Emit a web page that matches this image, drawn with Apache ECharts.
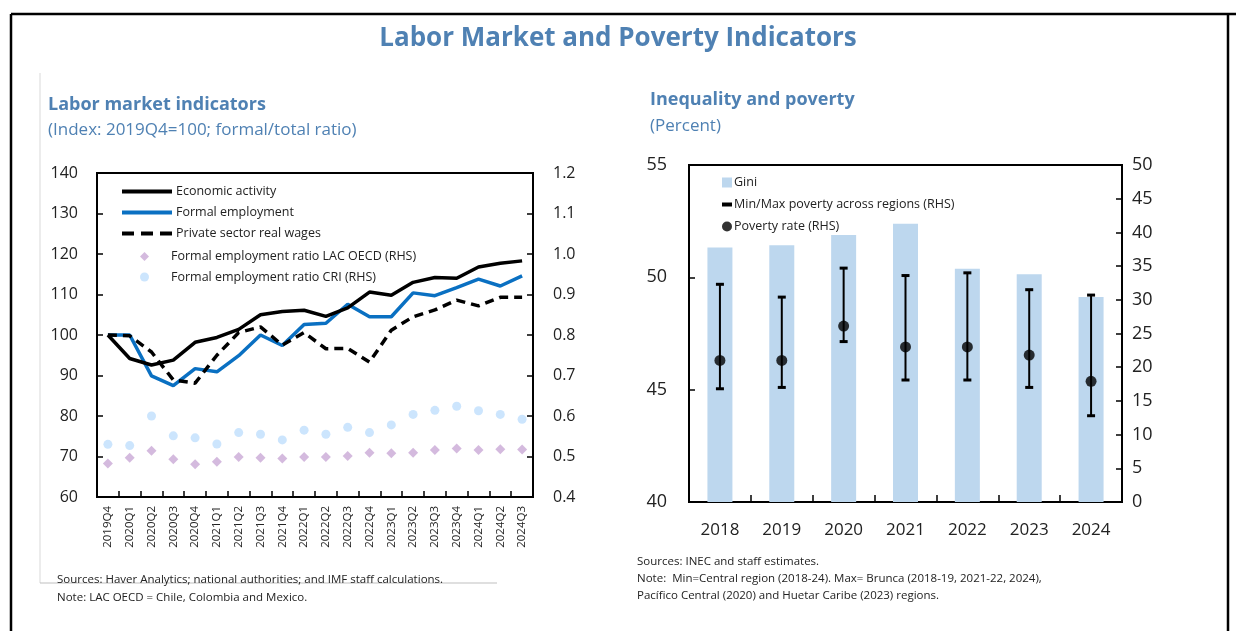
<!DOCTYPE html>
<html>
<head>
<meta charset="utf-8">
<title>Labor Market and Poverty Indicators</title>
<script src="https://cdn.jsdelivr.net/npm/echarts@6/dist/echarts.min.js"></script>
<style>
  html, body { margin: 0; padding: 0; background: #fff; }
  #main { width: 1236px; height: 631px; }
</style>
</head>
<body>
<div id="main"></div>
<script>
// left panel: quarterly data
var quarters = ['2019Q4', '2020Q1', '2020Q2', '2020Q3', '2020Q4', '2021Q1', '2021Q2', '2021Q3', '2021Q4', '2022Q1',
  '2022Q2', '2022Q3', '2022Q4', '2023Q1', '2023Q2', '2023Q3', '2023Q4', '2024Q1', '2024Q2', '2024Q3'];
var econActivity = [100, 94.2, 92.6, 93.8, 98.2, 99.4, 101.4, 105, 105.8, 106.1, 104.6, 106.7, 110.6, 109.8, 113.0, 114.2, 114.0, 116.8, 117.7, 118.3];
var formalEmp = [100, 100, 89.9, 87.5, 91.7, 90.9, 94.9, 100, 97.4, 102.6, 102.9, 107.6, 104.5, 104.5, 110.4, 109.7, 111.7, 113.8, 112.1, 114.6];
var realWages = [100, 99.8, 95.8, 88.9, 88.1, 95.0, 100.6, 102.0, 97.5, 100.6, 96.6, 96.7, 93.3, 101.2, 104.5, 106.2, 108.6, 107.2, 109.3, 109.3];
var ratioLacOecd = [0.483, 0.497, 0.514, 0.493, 0.481, 0.487, 0.499, 0.497, 0.495, 0.499, 0.499, 0.501, 0.509, 0.508, 0.509, 0.516, 0.520, 0.516, 0.518, 0.517];
var ratioCri = [0.530, 0.527, 0.600, 0.551, 0.546, 0.531, 0.559, 0.555, 0.541, 0.565, 0.555, 0.572, 0.559, 0.578, 0.604, 0.614, 0.624, 0.613, 0.604, 0.592];

// right panel: annual data
var years = ['2018', '2019', '2020', '2021', '2022', '2023', '2024'];
var gini = [51.33, 51.43, 51.88, 52.38, 50.38, 50.14, 49.13];
var povMin = [16.8, 17.0, 23.8, 18.1, 18.1, 17.0, 12.8];
var povMax = [32.3, 30.4, 34.7, 33.6, 34.0, 31.5, 30.7];
var povRate = [21.0, 21.0, 26.1, 23.0, 23.0, 21.8, 17.9];

var FONT = '"Open Sans", "Noto Sans", sans-serif';
var TITLE_BLUE = '#4f81b3';

var myChart = echarts.init(document.getElementById('main'));

var rangeData = years.map(function (y, i) { return [i, povMin[i], povMax[i]]; });

function renderRange(params, api) {
  var x = api.value(0);
  var lo = api.coord([x, api.value(1)]);
  var hi = api.coord([x, api.value(2)]);
  var cap = 4;
  var st = { stroke: '#000', lineWidth: 2 };
  var capSt = { stroke: '#000', lineWidth: 3 };
  return {
    type: 'group',
    children: [
      { type: 'line', shape: { x1: lo[0], y1: lo[1], x2: hi[0], y2: hi[1] }, style: st },
      { type: 'line', shape: { x1: hi[0] - cap, y1: hi[1], x2: hi[0] + cap, y2: hi[1] }, style: capSt },
      { type: 'line', shape: { x1: lo[0] - cap, y1: lo[1], x2: lo[0] + cap, y2: lo[1] }, style: capSt }
    ]
  };
}

var axisLineSt = { show: true, lineStyle: { color: '#000', width: 2 } };
var tickSt = { show: true, inside: true, length: 6, lineStyle: { color: '#000', width: 1.5 } };

var option = {
  animation: false,
  textStyle: { fontFamily: FONT },
  grid: [
    { left: 97, top: 173, width: 436, height: 324, show: true, borderColor: '#000', borderWidth: 2 },
    { left: 689, top: 165, width: 433, height: 337, show: true, borderColor: '#000', borderWidth: 2 }
  ],
  legend: [
    {
      left: 117, top: 180, orient: 'vertical', itemWidth: 50, itemHeight: 4, itemGap: 8,
      textStyle: { fontFamily: FONT, fontSize: 12.5, color: '#222', padding: [0, 0, 0, -1], lineHeight: 4 },
      data: [
        { name: 'Economic activity', icon: 'path://M0,0H50V4H0Z' },
        { name: 'Formal employment', icon: 'path://M0,0H50V4H0Z' },
        { name: 'Private sector real wages', icon: 'path://M0,0H12V4H0ZM19,0H31V4H19ZM38,0H50V4H38Z' }
      ]
    },
    {
      left: 135, top: 245, orient: 'vertical', itemWidth: 9, itemHeight: 9, itemGap: 7.5,
      textStyle: { fontFamily: FONT, fontSize: 12.5, color: '#222', padding: [0, 0, 0, 17] },
      data: [
        { name: 'Formal employment ratio LAC OECD (RHS)', icon: 'diamond' },
        { name: 'Formal employment ratio CRI (RHS)', icon: 'circle' }
      ]
    },
    {
      left: 717, top: 171, itemWidth: 10, itemHeight: 10,
      textStyle: { fontFamily: FONT, fontSize: 12.5, color: '#222', padding: [0, 0, 0, -3] },
      data: [{ name: 'Gini', icon: 'rect' }]
    },
    {
      left: 717, top: 193, itemWidth: 10, itemHeight: 10,
      textStyle: { fontFamily: FONT, fontSize: 12.5, color: '#222', padding: [0, 0, 0, -3] },
      data: [{ name: 'Min/Max poverty across regions (RHS)', icon: 'path://M1.5,3.8H8V6.4H1.5Z', itemStyle: { color: '#000' } }]
    },
    {
      left: 717, top: 215, itemWidth: 10, itemHeight: 10,
      textStyle: { fontFamily: FONT, fontSize: 12.5, color: '#222', padding: [0, 0, 0, -3] },
      data: [{ name: 'Poverty rate (RHS)', icon: 'circle' }]
    }
  ],
  xAxis: [
    {
      type: 'category', gridIndex: 0, data: quarters, boundaryGap: true,
      axisLine: axisLineSt,
      axisTick: { show: true, inside: true, length: 6, interval: 0, lineStyle: { color: '#000', width: 1.5 } },
      axisLabel: { interval: 0, rotate: 90, margin: 9, fontSize: 11.5, color: '#222', fontFamily: FONT }
    },
    {
      type: 'category', gridIndex: 1, data: years, boundaryGap: true,
      axisLine: axisLineSt,
      axisTick: { show: true, inside: true, length: 7, interval: 0, lineStyle: { color: '#000', width: 1.5 } },
      axisLabel: { interval: 0, margin: 20, fontSize: 17, color: '#222', fontFamily: FONT }
    }
  ],
  yAxis: [
    {
      type: 'value', gridIndex: 0, min: 60, max: 140, interval: 10,
      axisLine: axisLineSt, axisTick: tickSt, splitLine: { show: false },
      axisLabel: { margin: 19, fontSize: 16, color: '#222', fontFamily: FONT }
    },
    {
      type: 'value', gridIndex: 0, position: 'right', min: 0.4, max: 1.2, interval: 0.1,
      axisLine: axisLineSt, axisTick: tickSt, splitLine: { show: false },
      axisLabel: { margin: 20, fontSize: 16, color: '#222', fontFamily: FONT,
        formatter: function (v) { return v.toFixed(1); } }
    },
    {
      type: 'value', gridIndex: 1, min: 40, max: 55, interval: 5,
      axisLine: axisLineSt, axisTick: tickSt, splitLine: { show: false },
      axisLabel: { margin: 22, fontSize: 18, color: '#222', fontFamily: FONT }
    },
    {
      type: 'value', gridIndex: 1, position: 'right', min: 0, max: 50, interval: 5,
      axisLine: axisLineSt, axisTick: tickSt, splitLine: { show: false },
      axisLabel: { margin: 10, fontSize: 18, color: '#222', fontFamily: FONT }
    }
  ],
  series: [
    {
      name: 'Economic activity', type: 'line', xAxisIndex: 0, yAxisIndex: 0, data: econActivity,
      symbol: 'none', lineStyle: { color: '#000', width: 3.5 }, itemStyle: { color: '#000' }, z: 5
    },
    {
      name: 'Formal employment', type: 'line', xAxisIndex: 0, yAxisIndex: 0, data: formalEmp,
      symbol: 'none', lineStyle: { color: '#0a70c2', width: 3.5 }, itemStyle: { color: '#0a70c2' }, z: 4
    },
    {
      name: 'Private sector real wages', type: 'line', xAxisIndex: 0, yAxisIndex: 0, data: realWages,
      symbol: 'none', lineStyle: { color: '#000', width: 3.5, type: [9, 6] }, itemStyle: { color: '#000' }, z: 6
    },
    {
      name: 'Formal employment ratio LAC OECD (RHS)', type: 'scatter', xAxisIndex: 0, yAxisIndex: 1, data: ratioLacOecd,
      symbol: 'diamond', symbolSize: 10, itemStyle: { color: '#c9a9d6' }
    },
    {
      name: 'Formal employment ratio CRI (RHS)', type: 'scatter', xAxisIndex: 0, yAxisIndex: 1, data: ratioCri,
      symbol: 'circle', symbolSize: 9, itemStyle: { color: '#bfdffc' }
    },
    {
      name: 'Gini', type: 'bar', xAxisIndex: 1, yAxisIndex: 2, data: gini,
      barWidth: 25, itemStyle: { color: '#bdd7ee' }
    },
    {
      name: 'Min/Max poverty across regions (RHS)', type: 'custom', xAxisIndex: 1, yAxisIndex: 3,
      data: rangeData, renderItem: renderRange, itemStyle: { color: '#000' }, z: 5
    },
    {
      name: 'Poverty rate (RHS)', type: 'scatter', xAxisIndex: 1, yAxisIndex: 3, data: povRate,
      symbol: 'circle', symbolSize: 11, itemStyle: { color: '#000' }, z: 6
    }
  ],
  graphic: [
    // outer frame
    { type: 'line', shape: { x1: 11, y1: 14, x2: 1236, y2: 14 }, style: { stroke: '#000', lineWidth: 2.5 } },
    { type: 'line', shape: { x1: 11, y1: 14, x2: 11, y2: 631 }, style: { stroke: '#000', lineWidth: 2.5 } },
    { type: 'line', shape: { x1: 1228, y1: 14, x2: 1228, y2: 631 }, style: { stroke: '#000', lineWidth: 2.5 } },
    // thin grey frame of the left panel
    { type: 'line', shape: { x1: 40, y1: 73, x2: 40, y2: 583 }, style: { stroke: '#d9d9d9', lineWidth: 1 } },
    { type: 'line', shape: { x1: 40, y1: 583, x2: 497, y2: 583 }, style: { stroke: '#bfbfbf', lineWidth: 1 } },
    // titles
    { type: 'text', left: 'center', top: 26, style: { text: 'Labor Market and Poverty Indicators', fill: TITLE_BLUE, font: 'bold 26px ' + FONT } },
    { type: 'text', left: 48, top: 96, style: { text: 'Labor market indicators', fill: TITLE_BLUE, font: 'bold 18px ' + FONT } },
    { type: 'text', left: 48, top: 122, style: { text: '(Index: 2019Q4=100; formal/total ratio)', fill: TITLE_BLUE, font: '17px ' + FONT } },
    { type: 'text', left: 650, top: 91, style: { text: 'Inequality and poverty', fill: TITLE_BLUE, font: 'bold 18px ' + FONT } },
    { type: 'text', left: 650, top: 118, style: { text: '(Percent)', fill: TITLE_BLUE, font: '17px ' + FONT } },
    // notes
    { type: 'text', left: 57, top: 574, style: { text: 'Sources: Haver Analytics; national authorities; and IMF staff calculations.', fill: '#222', font: '11.5px ' + FONT } },
    { type: 'text', left: 57, top: 592, style: { text: 'Note: LAC OECD = Chile, Colombia and Mexico.', fill: '#222', font: '11.5px ' + FONT } },
    { type: 'text', left: 637, top: 556, style: { text: 'Sources: INEC and staff estimates.', fill: '#222', font: '11.5px ' + FONT } },
    { type: 'text', left: 637, top: 573, style: { text: 'Note:  Min=Central region (2018-24). Max= Brunca (2018-19, 2021-22, 2024),', fill: '#222', font: '11.5px ' + FONT } },
    { type: 'text', left: 637, top: 590, style: { text: 'Pacífico Central (2020) and Huetar Caribe (2023) regions.', fill: '#222', font: '11.5px ' + FONT } }
  ]
};

myChart.setOption(option);
window.onresize = myChart.resize;
</script>
</body>
</html>
